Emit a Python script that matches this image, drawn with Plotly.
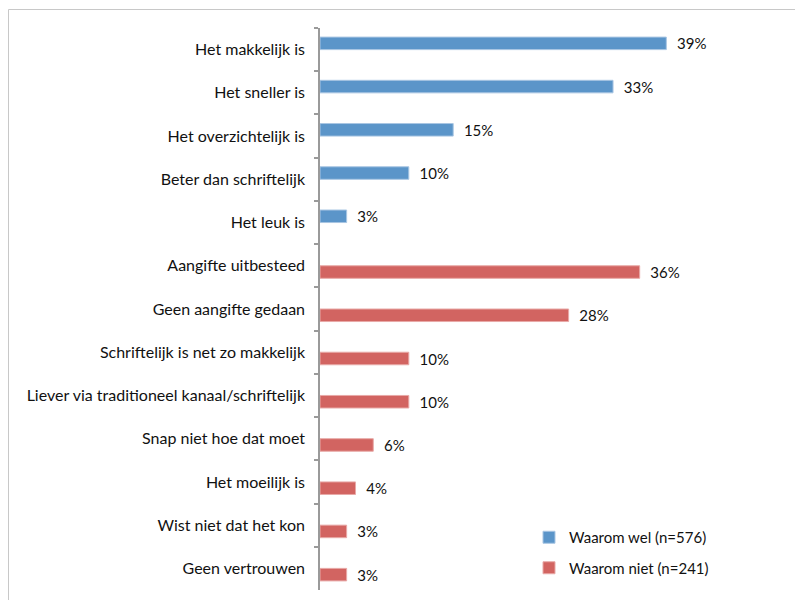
import plotly.graph_objects as go

categories = [
    "Het makkelijk is",
    "Het sneller is",
    "Het overzichtelijk is",
    "Beter dan schriftelijk",
    "Het leuk is",
    "Aangifte uitbesteed",
    "Geen aangifte gedaan",
    "Schriftelijk is net zo makkelijk",
    "Liever via traditioneel kanaal/schriftelijk",
    "Snap niet hoe dat moet",
    "Het moeilijk is",
    "Wist niet dat het kon",
    "Geen vertrouwen",
]
wel_values = [39, 33, 15, 10, 3, None, None, None, None, None, None, None, None]
niet_values = [None, None, None, None, None, 36, 28, 10, 10, 6, 4, 3, 3]
series_names = ["Waarom wel (n=576)", "Waarom niet (n=241)"]

BLUE = "#5B95C9"
RED = "#D26461"
FONT = "Lato"


def labels(vals):
    return ["\u00a0\u00a0%d%%" % v if v is not None else "" for v in vals]


fig = go.Figure()
for name, vals, color, edge in [
    (series_names[0], wel_values, BLUE, "#A9C6E3"),
    (series_names[1], niet_values, RED, "#E8A9A7"),
]:
    fig.add_trace(go.Bar(
        y=categories, x=vals, orientation="h", name=name,
        marker=dict(color=color, line=dict(color=edge, width=1)),
        text=labels(vals), textposition="outside", constraintext="none",
        textfont=dict(family=FONT, size=15, color="#111111"),
        cliponaxis=False, legendgroup=name,
    ))

# outer chart frame (partly outside the visible area)
L, R, T, B = 320, 764, 28, 590
W, H = R - L, B - T


def px(x):
    return (x - L) / W


def py(y):
    return (B - y) / H


fig.add_shape(type="rect", xref="paper", yref="paper",
              x0=px(8.5), x1=px(805), y0=py(9.5), y1=py(610),
              line=dict(color="#C8C8C8", width=1), layer="below")

fig.update_layout(
    width=795, height=600,
    margin=dict(l=L, r=795 - R, t=T, b=600 - B),
    paper_bgcolor="white", plot_bgcolor="white",
    barmode="group", bargap=0.42, bargroupgap=0,
    font=dict(family=FONT, size=15, color="#111111"),
    showlegend=True,
    legend=dict(x=px(529), y=py(521), xanchor="left", yanchor="top",
                font=dict(family=FONT, size=15, color="#111111"),
                tracegroupgap=8, bgcolor="rgba(0,0,0,0)"),
    xaxis=dict(range=[0, 50], visible=False, showgrid=False, zeroline=False),
    yaxis=dict(autorange="reversed", type="category", tickson="boundaries",
               ticks="outside", ticklen=4, tickcolor="#9A9A9A", tickwidth=1.5,
               showline=True, linecolor="#9A9A9A", linewidth=1.5,
               showgrid=False, ticklabelstandoff=10,
               tickfont=dict(family=FONT, size=16, color="#111111")),
)

fig.write_html("out.html")
